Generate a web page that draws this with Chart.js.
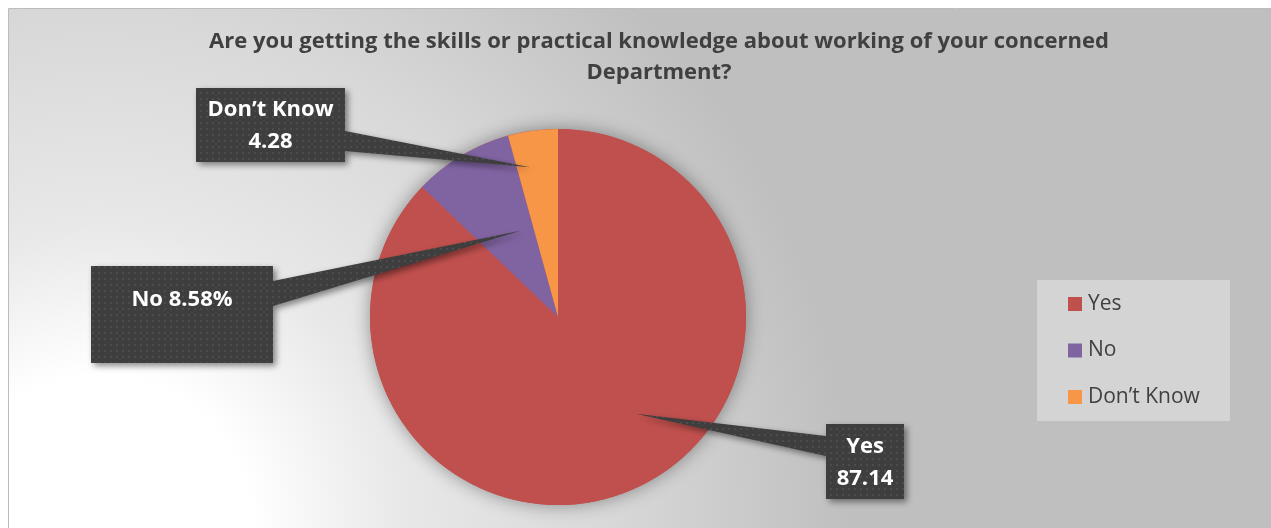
<!DOCTYPE html>
<html>
<head>
<meta charset="utf-8">
<script src="https://cdn.jsdelivr.net/npm/chart.js@4.4.1/dist/chart.umd.min.js"></script>
<style>
  html, body { margin: 0; padding: 0; background: #fff; }
  #wrap { width: 1271px; height: 528px; position: relative; }
</style>
</head>
<body>
<div id="wrap"><canvas id="pieChart"></canvas></div>
<script>
// ---------------------------------------------------------
// Data
// ---------------------------------------------------------
const categories = ["Yes", "No", "Don\u2019t Know"];
const values = [87.14, 8.58, 4.28];
const sliceColors = ["#c0504d", "#8064a2", "#f79646"];
const titleLines = [
  "Are you getting the skills or practical knowledge about working of your concerned",
  "Department?"
];

// ---------------------------------------------------------
// Layout / styling
// ---------------------------------------------------------
const FONT = "'Open Sans', sans-serif";
const TEXT_DARK = "#404040";

// callout boxes: box rect, which side the pointer leaves from,
// where along that side it attaches, and where the tip sits in the slice
const callouts = [
  { box: [826, 424, 78, 75], side: "left", attach: [436, 456], tipFrac: 0.45, tipR: 0.66, inline: false },
  { box: [91, 266, 182, 97], side: "right", attach: [281, 306], tipFrac: 0.74, tipR: 0.5, inline: true, textY: 300 },
  { box: [196, 88, 149, 74], side: "right", attach: [131, 151], tipFrac: 0.31, tipR: 0.81, inline: false }
];

const legendBox = { x: 1037, y: 280, w: 193, h: 141, itemX: 1068, firstY: 304, step: 46.5 };

// dotted fill for the callout boxes
function makeDotPattern(ctx) {
  const c = document.createElement("canvas");
  c.width = 6; c.height = 6;
  const p = c.getContext("2d");
  p.fillStyle = "#3e3e3e";
  p.fillRect(0, 0, 6, 6);
  p.fillStyle = "#4c4c4c";
  p.fillRect(2, 2, 2, 2);
  return ctx.createPattern(c, "repeat");
}

// ---------------------------------------------------------
// Plugins
// ---------------------------------------------------------
const backgroundPlugin = {
  id: "frameBackground",
  beforeDraw(chart) {
    const { ctx, width, height } = chart;
    ctx.save();
    ctx.fillStyle = "#fff";
    ctx.fillRect(0, 0, width, height);
    const g = ctx.createRadialGradient(100, 528, 0, 100, 528, 800);
    g.addColorStop(0, "#ffffff");
    g.addColorStop(0.19, "#ffffff");
    g.addColorStop(0.38, "#e8e8e8");
    g.addColorStop(0.64, "#d8d8d8");
    g.addColorStop(0.94, "#bfbfbf");
    g.addColorStop(1, "#bfbfbf");
    ctx.fillStyle = g;
    ctx.fillRect(9, 9, width - 9, height - 9);
    ctx.strokeStyle = "#bcbcbc";
    ctx.lineWidth = 1;
    ctx.beginPath();
    ctx.moveTo(8.5, height);
    ctx.lineTo(8.5, 8.5);
    ctx.lineTo(width, 8.5);
    ctx.stroke();
    ctx.restore();
  }
};

const pieShadowPlugin = {
  id: "pieShadow",
  beforeDatasetsDraw(chart) {
    const arc = chart.getDatasetMeta(0).data[0];
    if (!arc) return;
    const { ctx } = chart;
    ctx.save();
    ctx.shadowColor = "rgba(0,0,0,0.38)";
    ctx.shadowBlur = 18;
    ctx.fillStyle = sliceColors[0];
    ctx.beginPath();
    ctx.arc(arc.x, arc.y, arc.outerRadius, 0, Math.PI * 2);
    ctx.fill();
    ctx.restore();
  }
};

const overlayPlugin = {
  id: "overlay",
  afterDraw(chart) {
    const { ctx } = chart;
    const meta = chart.getDatasetMeta(0);
    const dots = makeDotPattern(ctx);

    // title
    ctx.save();
    ctx.fillStyle = TEXT_DARK;
    ctx.font = "bold 22px " + FONT;
    ctx.textAlign = "center";
    ctx.textBaseline = "middle";
    titleLines.forEach((t, i) => ctx.fillText(t, 659, 42 + i * 31));
    ctx.restore();

    // callouts
    callouts.forEach((c, i) => {
      const arc = meta.data[i];
      const a = arc.startAngle + c.tipFrac * (arc.endAngle - arc.startAngle);
      const tx = arc.x + Math.cos(a) * arc.outerRadius * c.tipR;
      const ty = arc.y + Math.sin(a) * arc.outerRadius * c.tipR;
      const [bx, by, bw, bh] = c.box;
      const ex = c.side === "right" ? bx + bw : bx;

      ctx.save();
      ctx.shadowColor = "rgba(0,0,0,0.45)";
      ctx.shadowBlur = 6;
      ctx.shadowOffsetX = 3;
      ctx.shadowOffsetY = 3;
      ctx.fillStyle = dots;
      ctx.beginPath();
      ctx.moveTo(bx, by);
      ctx.lineTo(bx + bw, by);
      if (c.side === "right") {
        ctx.lineTo(ex, c.attach[0]);
        ctx.lineTo(tx, ty);
        ctx.lineTo(ex, c.attach[1]);
      }
      ctx.lineTo(bx + bw, by + bh);
      ctx.lineTo(bx, by + bh);
      if (c.side === "left") {
        ctx.lineTo(ex, c.attach[1]);
        ctx.lineTo(tx, ty);
        ctx.lineTo(ex, c.attach[0]);
      }
      ctx.closePath();
      ctx.fill();
      ctx.restore();

      ctx.save();
      ctx.fillStyle = "#ffffff";
      ctx.font = "bold 22px " + FONT;
      ctx.textAlign = "center";
      ctx.textBaseline = "middle";
      const cx = bx + bw / 2;
      if (c.inline) {
        ctx.fillText(categories[i] + " " + values[i].toFixed(2) + "%", cx, c.textY);
      } else {
        ctx.fillText(categories[i], cx, by + bh / 2 - 15);
        ctx.fillText(values[i].toFixed(2), cx, by + bh / 2 + 17);
      }
      ctx.restore();
    });

    // legend
    const L = legendBox;
    ctx.save();
    ctx.fillStyle = "#d4d4d4";
    ctx.fillRect(L.x, L.y, L.w, L.h);
    ctx.font = "21px " + FONT;
    ctx.textBaseline = "middle";
    categories.forEach((name, i) => {
      const y = L.firstY + i * L.step;
      ctx.fillStyle = sliceColors[i];
      ctx.fillRect(L.itemX, y - 7, 14, 14);
      ctx.fillStyle = TEXT_DARK;
      ctx.fillText(name, L.itemX + 20, y);
    });
    ctx.restore();
  }
};

// ---------------------------------------------------------
// Chart
// ---------------------------------------------------------
new Chart(document.getElementById("pieChart"), {
  type: "pie",
  data: {
    labels: categories,
    datasets: [{
      data: values,
      backgroundColor: sliceColors,
      borderWidth: 0,
      hoverOffset: 0,
      offset: 0
    }]
  },
  options: {
    responsive: true,
    maintainAspectRatio: false,
    animation: false,
    events: [],
    layout: { padding: { left: 370, right: 525, top: 129, bottom: 23 } },
    plugins: {
      legend: { display: false },
      title: { display: false },
      tooltip: { enabled: false }
    }
  },
  plugins: [backgroundPlugin, pieShadowPlugin, overlayPlugin]
});
</script>
</body>
</html>
